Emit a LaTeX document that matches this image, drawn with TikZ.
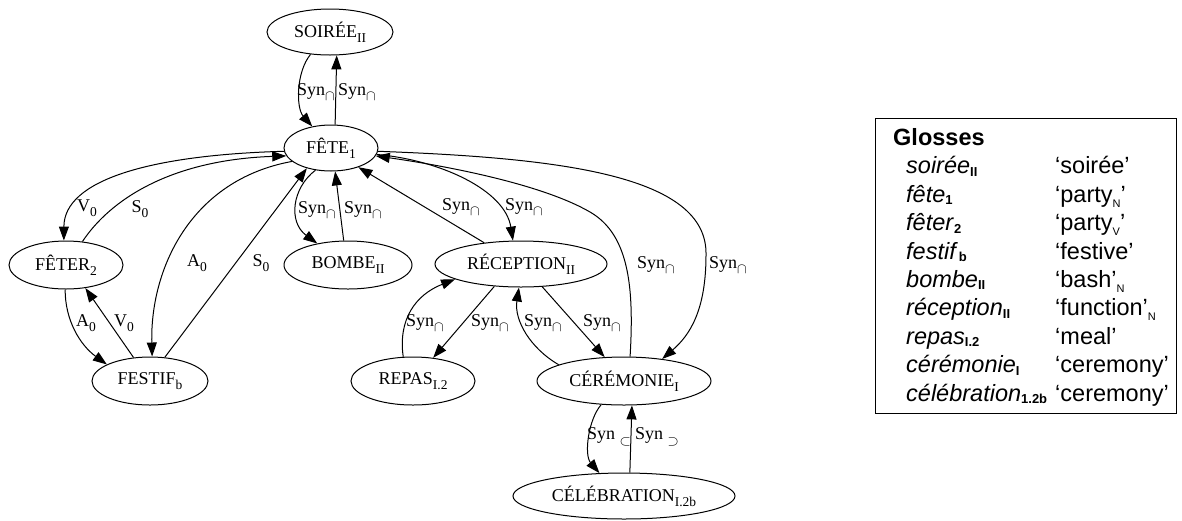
\documentclass[tikz,border=0pt]{standalone}
\usepackage{fontspec}
\setmainfont{Liberation Serif}
\newfontfamily\glossfont{Liberation Sans}
\usetikzlibrary{shapes.geometric,arrows.meta}

\newcommand{\nsub}[1]{\raisebox{-0.28em}{\fontsize{13.5}{13.5}\selectfont #1}}
\newcommand{\gsub}[1]{\raisebox{-0.1em}{\fontsize{13}{13}\selectfont\bfseries\upshape #1}}
\newcommand{\qsub}[1]{\raisebox{-0.2em}{\fontsize{11}{11}\selectfont #1}}
\newcommand{\synsub}[1]{\raisebox{-0.3em}{\fontsize{15}{15}\selectfont $#1$}}

\begin{document}
\begin{tikzpicture}[x=1pt,y=-1pt,
  lex/.style={ellipse,draw,line width=1pt,inner sep=0pt,font=\fontsize{18}{20}\selectfont},
  arr/.style={line width=1pt,-{Triangle[length=14pt,width=10pt]}},
  lab/.style={inner sep=0pt,font=\fontsize{18}{20}\selectfont},
  gl/.style={inner sep=0pt,anchor=base west,font=\glossfont\fontsize{23.5}{26}\selectfont},
  glh/.style={gl,font=\glossfont\bfseries\fontsize{23.5}{26}\selectfont},
  glbox/.style={draw,line width=1pt}
]
\useasboundingbox (0,0) rectangle (1182,520);

% lexical nodes
\node[lex,minimum width=126,minimum height=46] (soiree) at (330,32) {SOIRÉE\nsub{II}};
\node[lex,minimum width=94,minimum height=46] (fete) at (331,148) {FÊTE\nsub{1}};
\node[lex,minimum width=114,minimum height=48] (feter) at (66,265) {FÊTER\nsub{2}};
\node[lex,minimum width=116,minimum height=48] (festif) at (150,381) {FESTIF\nsub{b}};
\node[lex,minimum width=128,minimum height=48] (bombe) at (348,265) {BOMBE\nsub{II}};
\node[lex,minimum width=172,minimum height=46] (recep) at (521,264) {RÉCEPTION\nsub{II}};
\node[lex,minimum width=124,minimum height=48] (repas) at (413,381) {REPAS\nsub{I.2}};
\node[lex,minimum width=174,minimum height=48] (cerem) at (624,381) {CÉRÉMONIE\nsub{I}};
\node[lex,minimum width=222,minimum height=46] (celeb) at (624,496) {CÉLÉBRATION\nsub{I.2b}};

% soiree <-> fete
\draw[arr] (soiree.229) .. controls (296,72) and (296,108) .. (fete.131);
\draw[arr] (fete.80) -- (soiree.286);
\node[lab] (l1) at (316,92) {Syn\synsub{\cap}};
\node[lab] (l2) at (357,92) {Syn\synsub{\cap}};

% fete <-> feter
\draw[arr] (fete.184) .. controls (150,155) and (64,180) .. (feter.95);
\draw[arr] (feter.55) .. controls (110,200) and (170,160) .. (fete.190);
\node[lab] (l3) at (87,208) {V\nsub{0}};
\node[lab] (l4) at (140,209) {S\nsub{0}};

% fete <-> festif
\draw[arr] (fete.199) .. controls (190,180) and (150,270) .. (festif.85);
\draw[arr] (festif.58) -- (fete.220);
\node[lab] (l5) at (197,263) {A\nsub{0}};
\node[lab] (l6) at (261,263) {S\nsub{0}};

% feter <-> festif
\draw[arr] (feter.268) .. controls (65,320) and (80,345) .. (festif.159);
\draw[arr] (festif.125) -- (feter.310);
\node[lab] (l7) at (86,323) {A\nsub{0}};
\node[lab] (l8) at (124,323) {V\nsub{0}};

% fete <-> bombe
\draw[arr] (fete.235) .. controls (292,188) and (288,222) .. (bombe.145);
\draw[arr] (bombe.100) -- (fete.280);
\node[lab] (l9) at (317,210) {Syn\synsub{\cap}};
\node[lab] (l10) at (363,210) {Syn\synsub{\cap}};

% fete <-> reception
\draw[arr] (recep.150) -- (fete.325);
\draw[arr] (fete.352) .. controls (440,160) and (505,190) .. (recep.109);
\node[lab] (l11) at (461,207) {Syn\synsub{\cap}};
\node[lab] (l12) at (524,207) {Syn\synsub{\cap}};

% fete <-> ceremonie
\draw[arr] (cerem.76) .. controls (634,290) and (630,235) .. (590,212)
  .. controls (540,183) and (440,165) .. (fete.350);
\draw[arr] (fete.356) .. controls (560,158) and (708,175) .. (706,255)
  .. controls (706,310) and (690,335) .. (cerem.30);
\node[lab] (l13) at (656,265) {Syn\synsub{\cap}};
\node[lab] (l14) at (728,265) {Syn\synsub{\cap}};

% reception <-> repas
\draw[arr] (repas.112) .. controls (398,320) and (415,295) .. (recep.193);
\draw[arr] (recep.220) -- (repas.49);
\node[lab] (l15) at (425,323) {Syn\synsub{\cap}};
\node[lab] (l16) at (490,323) {Syn\synsub{\cap}};

% reception <-> ceremonie
\draw[arr] (cerem.166) .. controls (530,348) and (514,320) .. (recep.265);
\draw[arr] (recep.313) -- (cerem.129);
\node[lab] (l17) at (543,323) {Syn\synsub{\cap}};
\node[lab] (l18) at (602,323) {Syn\synsub{\cap}};

% ceremonie <-> celebration
\draw[arr] (cerem.226) .. controls (588,420) and (584,455) .. (celeb.137);
\draw[arr] (celeb.76) -- (cerem.288);
\node[lab] (l19) at (609,437) {Syn \synsub{\subset}};
\node[lab] (l20) at (657,437) {Syn \synsub{\supset}};

% glosses box
\draw[glbox] (875,118) rectangle (1176,413);
\node[glh] (gh) at (893,145.5) {Glosses};
\node[gl] (g1a) at (906,173.9) {\textit{soirée}\gsub{II}};
\node[gl] (g1b) at (1055,173.9) {‘soirée’};
\node[gl] (g2a) at (906,202.3) {\textit{fête}\gsub{1}};
\node[gl] (g2b) at (1055,202.3) {‘party\qsub{N}’};
\node[gl] (g3a) at (906,230.7) {\textit{fêter}\gsub{2}};
\node[gl] (g3b) at (1055,230.7) {‘party\qsub{V}’};
\node[gl] (g4a) at (906,259.1) {\textit{festif\/}\kern1pt\gsub{b}};
\node[gl] (g4b) at (1055,259.1) {‘festive’};
\node[gl] (g5a) at (906,287.5) {\textit{bombe}\gsub{II}};
\node[gl] (g5b) at (1055,287.5) {‘bash’\qsub{N}};
\node[gl] (g6a) at (906,315.9) {\textit{réception}\gsub{II}};
\node[gl] (g6b) at (1055,315.9) {‘function’\qsub{N}};
\node[gl] (g7a) at (906,344.3) {\textit{repas}\gsub{I.2}};
\node[gl] (g7b) at (1055,344.3) {‘meal’};
\node[gl] (g8a) at (906,372.7) {\textit{cérémonie}\gsub{I}};
\node[gl] (g8b) at (1055,372.7) {‘ceremony’};
\node[gl] (g9a) at (906,401.1) {\textit{célébration}\gsub{1.2b}};
\node[gl] (g9b) at (1055,401.1) {‘ceremony’};
\end{tikzpicture}
\end{document}
